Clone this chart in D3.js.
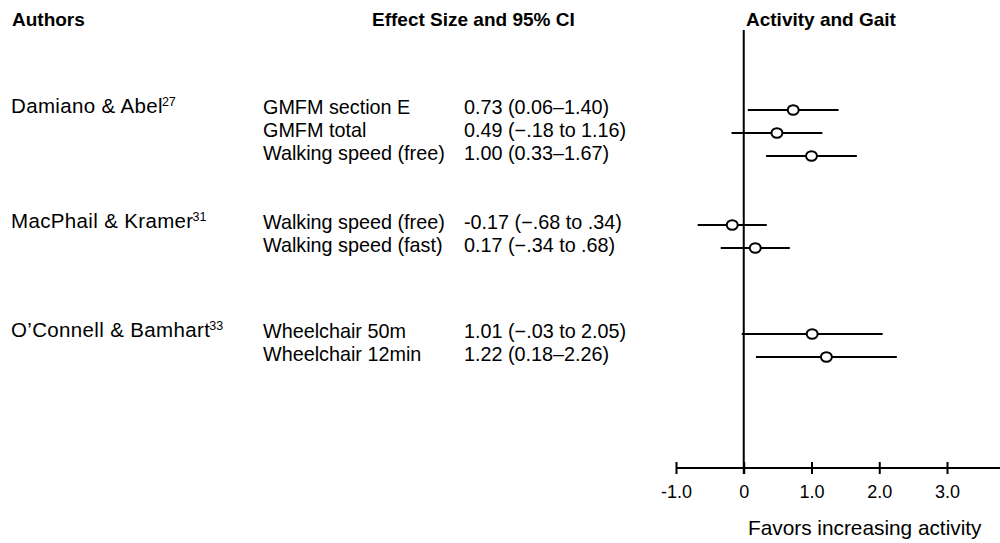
<!DOCTYPE html>
<html>
<head>
<meta charset="utf-8">
<script src="https://cdn.jsdelivr.net/npm/d3@7/dist/d3.min.js"></script>
<style>
  html, body { margin: 0; padding: 0; background: #fff; }
  svg { display: block; }
  text { font-family: "Liberation Sans", Arial, Helvetica, sans-serif; fill: #000; }
</style>
</head>
<body>
<svg id="chart" width="1000" height="543"></svg>
<script>
// ---------- data ----------
const headers = ["Authors", "Effect Size and 95% CI", "Activity and Gait"];
const authors = ["Damiano & Abel", "MacPhail & Kramer", "O\u2019Connell & Bamhart"];
const authorRefs = ["27", "31", "33"];
const outcomes = ["GMFM section E", "GMFM total", "Walking speed (free)",
                  "Walking speed (free)", "Walking speed (fast)",
                  "Wheelchair 50m", "Wheelchair 12min"];
const outcomeGroup = [0, 0, 0, 1, 1, 2, 2];
const effect = [0.73, 0.49, 1.00, -0.17, 0.17, 1.01, 1.22];
const ciLow  = [0.06, -0.18, 0.33, -0.68, -0.34, -0.03, 0.18];
const ciHigh = [1.40, 1.16, 1.67, 0.34, 0.68, 2.05, 2.26];
const ciLabels = ["0.73 (0.06\u20131.40)", "0.49 (\u2212.18 to 1.16)", "1.00 (0.33\u20131.67)",
                  "-0.17 (\u2212.68 to .34)", "0.17 (\u2212.34 to .68)",
                  "1.01 (\u2212.03 to 2.05)", "1.22 (0.18\u20132.26)"];
const xTicks = [-1, 0, 1, 2, 3];
const xTickLabels = ["-1.0", "0", "1.0", "2.0", "3.0"];
const xAxisTitle = "Favors increasing activity";

// ---------- layout ----------
const W = 1000, H = 543;
const groupTop = [108, 223, 332];   // y of first row in each group
const rowStep = 23;
const axisY = 468;
const headSize = 19, bodySize = 19.8, authorSize = 20.5, tickSize = 18;

const svg = d3.select("#chart");

const x = d3.scaleLinear().domain([-1, 3]).range([676, 947]);

// row y positions from group membership
const idxInGroup = outcomeGroup.map((g, i) => outcomeGroup.slice(0, i).filter(v => v === g).length);
const rowY = i => groupTop[outcomeGroup[i]] + rowStep * idxInGroup[i];

// ---------- headers ----------
const headerX = [12, 372, 746];
svg.selectAll("text.hdr").data(headers).join("text")
  .attr("class", "hdr")
  .attr("x", (d, i) => headerX[i])
  .attr("y", 26)
  .attr("font-size", headSize)
  .attr("font-weight", "bold")
  .text(d => d);

// ---------- authors ----------
const authorG = svg.selectAll("text.author").data(authors).join("text")
  .attr("class", "author")
  .attr("x", 11)
  .attr("y", (d, g) => groupTop[g] + 5)
  .attr("font-size", authorSize)
  .attr("letter-spacing", 0.35);
authorG.append("tspan").text(d => d);
authorG.append("tspan")
  .attr("font-size", 12.5)
  .attr("letter-spacing", 0)
  .attr("dx", -1)
  .attr("dy", -7)
  .text((d, g) => authorRefs[g]);

// ---------- outcome names & CI labels ----------
svg.selectAll("text.outcome").data(outcomes).join("text")
  .attr("class", "outcome")
  .attr("x", 263)
  .attr("y", (d, i) => rowY(i) + 6)
  .attr("font-size", bodySize)
  .text(d => d);

svg.selectAll("text.ci").data(ciLabels).join("text")
  .attr("class", "ci")
  .attr("x", 464)
  .attr("y", (d, i) => rowY(i) + 6)
  .attr("font-size", bodySize)
  .text(d => d);

// ---------- zero line ----------
svg.append("line")
  .attr("x1", x(0)).attr("x2", x(0))
  .attr("y1", 30).attr("y2", axisY + 6)
  .attr("stroke", "#000").attr("stroke-width", 2);

// ---------- CI bars & points ----------
svg.selectAll("line.ci").data(effect).join("line")
  .attr("class", "ci")
  .attr("x1", (d, i) => x(ciLow[i]))
  .attr("x2", (d, i) => x(ciHigh[i]))
  .attr("y1", (d, i) => rowY(i) + 2)
  .attr("y2", (d, i) => rowY(i) + 2)
  .attr("stroke", "#000").attr("stroke-width", 2);

svg.selectAll("ellipse.pt").data(effect).join("ellipse")
  .attr("class", "pt")
  .attr("cx", d => x(d))
  .attr("cy", (d, i) => rowY(i) + 2)
  .attr("rx", 5.5).attr("ry", 4.8)
  .attr("fill", "#fff")
  .attr("stroke", "#000").attr("stroke-width", 2);

// ---------- axis ----------
const axis = d3.axisBottom(x)
  .tickValues(xTicks)
  .tickFormat((d, i) => xTickLabels[i])
  .tickSizeOuter(0)
  .tickSizeInner(6);
const ag = svg.append("g").attr("transform", `translate(0,${axisY})`).call(axis);
ag.select(".domain")
  .attr("d", `M${x(-1)},0H${W}`)
  .attr("stroke", "#000").attr("stroke-width", 2);
ag.selectAll(".tick line")
  .attr("y1", -6).attr("y2", 6)
  .attr("stroke", "#000").attr("stroke-width", 2);
ag.selectAll(".tick text")
  .attr("y", 30).attr("dy", 0)
  .attr("font-size", tickSize)
  .attr("font-family", "Liberation Sans, Arial, sans-serif")
  .attr("fill", "#000");

svg.append("text")
  .attr("x", 748)
  .attr("y", 535)
  .attr("font-size", 20.8)
  .text(xAxisTitle);
</script>
</body>
</html>
